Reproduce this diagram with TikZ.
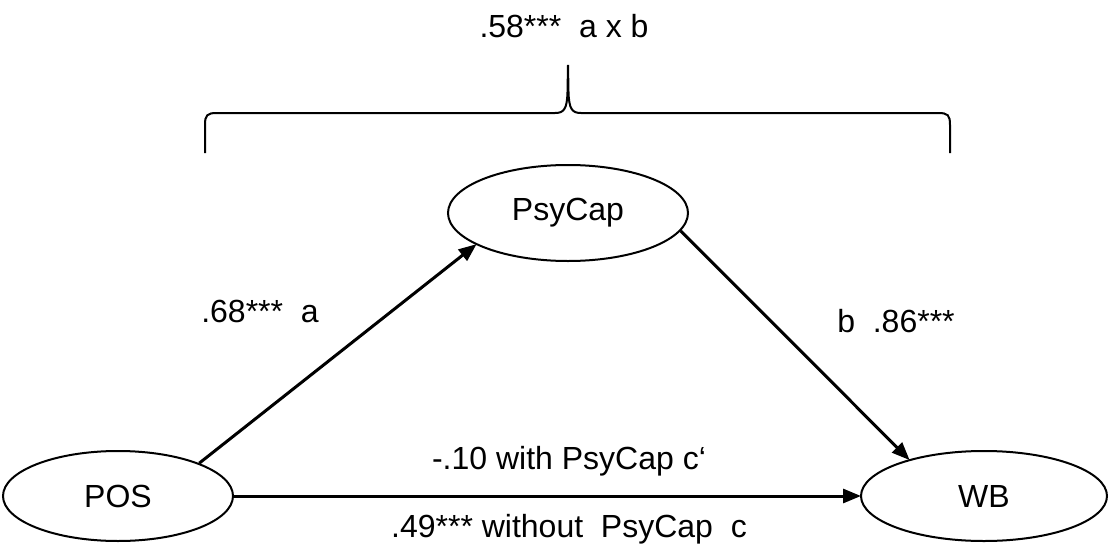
\documentclass[tikz,border=0pt]{standalone}
\usepackage{fontspec}
\setmainfont{Liberation Sans}
\usetikzlibrary{shapes.geometric,arrows.meta}
\begin{document}
\begin{tikzpicture}[x=1pt,y=-1pt,
  var/.style={draw,ellipse,line width=2pt,inner sep=0pt,font=\fontsize{32}{35}\selectfont},
  path arrow/.style={line width=3pt,-{Triangle[length=18pt,width=14pt]},shorten >=-1pt},
  lbl/.style={inner sep=0pt,font=\fontsize{32}{35}\selectfont}]
\useasboundingbox (0,0) rectangle (1114,546);
\node[var,minimum width=230pt,minimum height=90pt] (pos) at (118,496) {POS};
\node[var,minimum width=240pt,minimum height=96pt] (psy) at (568,213) {PsyCap};
\node[var,minimum width=246pt,minimum height=90pt] (wb) at (984,496) {WB};
\draw[path arrow] (pos.22) -- (psy.199);
\draw[path arrow] (psy.-9) -- (wb.154);
\draw[path arrow] (pos.east) -- (wb.west);
\node[lbl] (la) at (260,311) {.68***\ \ a};
\node[lbl] (lb) at (896,321) {b\ \ .86***};
\node[lbl] (lc1) at (569,461) {-.10 with PsyCap c‘};
\node[lbl] (lc) at (569,529) {.49*** without\ \ PsyCap\ \ c};
\node[lbl] (lab) at (564,26) {.58***\ \ a x b};
\draw[line width=2pt] (205,153) -- (205,125) .. controls (205,115) and (207,113) .. (217,113)
  -- (555,113) .. controls (564,113) and (567,109) .. (567.5,92) -- (568,65)
  -- (568.5,92) .. controls (569,109) and (572,113) .. (581,113)
  -- (938,113) .. controls (948,113) and (950,115) .. (950,125) -- (950,153);
\end{tikzpicture}
\end{document}
